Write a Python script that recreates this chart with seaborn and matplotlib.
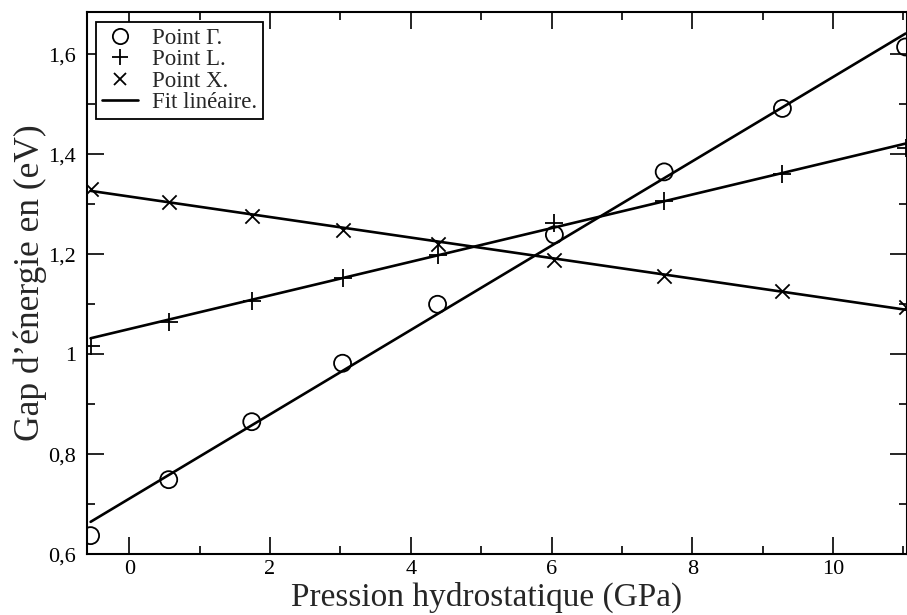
import numpy as np
import pandas as pd
import matplotlib
matplotlib.use("Agg")
import matplotlib.pyplot as plt
import seaborn as sns
from matplotlib.lines import Line2D
from matplotlib.ticker import FuncFormatter, MultipleLocator

# Data
pression = [-0.55, 0.56, 1.74, 3.03, 4.38, 6.04, 7.60, 9.28, 11.03]
gap_gamma = [0.637, 0.749, 0.865, 0.982, 1.100, 1.239, 1.365, 1.492, 1.615]
gap_L = [1.017, 1.065, 1.107, 1.152, 1.199, 1.262, 1.307, 1.361, 1.412]
gap_X = [1.330, 1.304, 1.277, 1.249, 1.221, 1.189, 1.157, 1.127, 1.095]

# Linear fits (intercept, slope) as drawn in the reference
fit_intercept = {"Gamma": 0.711, "L": 1.0505, "X": 1.3157}
fit_slope = {"Gamma": 0.0844, "L": 0.03365, "X": -0.02054}

labels = ["Point \u0393.", "Point L.", "Point X.", "Fit lin\u00e9aire."]
xticks = [0, 2, 4, 6, 8, 10]
yticks = [0.6, 0.8, 1.0, 1.2, 1.4, 1.6]

sns.set_theme(style="ticks")
plt.rcParams["font.family"] = ["Liberation Serif", "DejaVu Serif"]
plt.rcParams["mathtext.fontset"] = "stix"

fig = plt.figure(figsize=(9.07, 6.15), dpi=100)
ax = fig.add_axes([0.096, 0.099, 0.904, 0.8815])

df = pd.DataFrame({"p": pression, "G": gap_gamma, "L": gap_L, "X": gap_X})

# fit lines
xfit = np.array([pression[0], pression[-1]])
for key in ["Gamma", "L", "X"]:
    fdf = pd.DataFrame({"p": xfit, "y": fit_intercept[key] + fit_slope[key] * xfit})
    sns.lineplot(data=fdf, x="p", y="y", ax=ax, color="black", linewidth=1.9, legend=False)

ms = 150
sns.scatterplot(data=df, x="p", y="G", ax=ax, marker="o", s=ms, facecolors="none",
                edgecolor="black", linewidth=1.3, legend=False, zorder=3)
sns.scatterplot(data=df, x="p", y="L", ax=ax, marker="+", s=ms, color="black",
                linewidth=1.3, legend=False, zorder=3)
sns.scatterplot(data=df, x="p", y="X", ax=ax, marker="x", s=ms * 0.7, color="black",
                linewidth=1.3, legend=False, zorder=3)

ax.set_xlim(-0.6, 11.05)
ax.set_ylim(0.6, 1.685)
ax.set_xticks(xticks)
ax.set_yticks(yticks)
ax.xaxis.set_minor_locator(MultipleLocator(1))
ax.yaxis.set_minor_locator(MultipleLocator(0.1))
fmt = FuncFormatter(lambda v, pos: f"{v:g}".replace(".", ","))
ax.xaxis.set_major_formatter(fmt)
ax.yaxis.set_major_formatter(fmt)
ax.tick_params(which="both", direction="in", top=True, right=True, colors="black",
               labelsize=16, width=1.2)
ax.tick_params(which="major", length=12, pad=8)
ax.tick_params(axis="x", which="major", pad=4)
ax.tick_params(which="minor", length=6)
for s in ax.spines.values():
    s.set_linewidth(1.5)
    s.set_color("black")

ax.set_xlabel("Pression hydrostatique (GPa)", fontsize=24, labelpad=0)
ax.xaxis.set_label_coords(0.487, -0.0945, transform=ax.transAxes)
ax.xaxis.label.set_va("baseline")
ax.set_ylabel("Gap d\u2019\u00e9nergie en (eV)", fontsize=25.5, labelpad=1)

handles = [
    Line2D([], [], marker="o", linestyle="", markerfacecolor="none", markeredgecolor="black",
           markersize=11, markeredgewidth=1.3),
    Line2D([], [], marker="+", linestyle="", color="black", markersize=12, markeredgewidth=1.3),
    Line2D([], [], marker="x", linestyle="", color="black", markersize=9, markeredgewidth=1.3),
    Line2D([], [], color="black", linewidth=1.9),
]
leg = ax.legend(handles, labels, loc="upper left", bbox_to_anchor=(0.011, 0.982),
                fontsize=16.5, frameon=True, fancybox=False, shadow=False,
                borderpad=0.25, labelspacing=0.02, handlelength=1.6, handletextpad=0.6,
                borderaxespad=0)
leg.get_frame().set_edgecolor("black")
leg.get_frame().set_linewidth(1.3)
leg.get_frame().set_alpha(1)

fig.savefig("out.png", dpi=100)
